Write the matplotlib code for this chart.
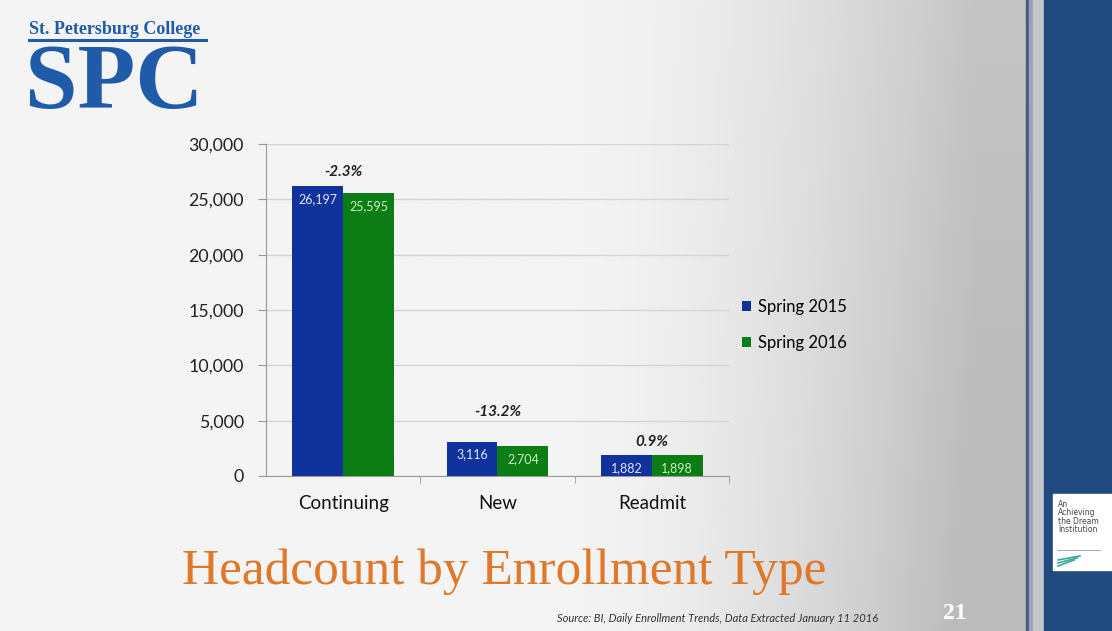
import matplotlib
matplotlib.use('Agg')
import matplotlib.pyplot as plt
from matplotlib.colors import LinearSegmentedColormap
import numpy as np

# Headcount by enrollment type, spring terms
categories = ['Continuing', 'New', 'Readmit']
spring_2015 = [26197, 3116, 1882]
spring_2016 = [25595, 2704, 1898]
series_names = ['Spring 2015', 'Spring 2016']
y_ticks = [0, 5000, 10000, 15000, 20000, 25000, 30000]

BLUE = '#11329a'
GREEN = '#0b7d14'
ORANGE = '#e0782a'
LOGO_BLUE = '#1f5ba8'
PANEL_BLUE = '#214b80'

W, H = 1112, 631
fig = plt.figure(figsize=(W / 100, H / 100), dpi=100)

# slide background: near white on the left, fading to grey towards the right edge
bg = fig.add_axes([0, 0, 1, 1], zorder=-10)
bg.set_xlim(0, W)
bg.set_ylim(H, 0)
bg.axis('off')
xs = np.linspace(0, 1, 400)
shade = np.where(xs < 0.55, 0.0, ((xs - 0.55) / 0.40) ** 1.6)
shade = np.clip(shade, 0, 1)
grad = np.tile(shade, (50, 1))
ys = np.linspace(0, 1, 50)[:, None]
grad = np.clip(grad * (0.85 + 0.25 * ys), 0, 1)
cmap = LinearSegmentedColormap.from_list('slide', ['#f4f4f4', '#bcbcbc'])
bg.imshow(grad, cmap=cmap, extent=[0, 1030, H, 0], aspect='auto', vmin=0, vmax=1)

# right-hand frame and blue panel
bg.add_patch(plt.Rectangle((1026, 0), 3, H, color='#4a5a78'))
bg.add_patch(plt.Rectangle((1029, 0), 4, H, color='#9aa3b3'))
bg.add_patch(plt.Rectangle((1033, 0), 11, H, color='#c3c6cb'))
bg.add_patch(plt.Rectangle((1044, 0), W - 1044, H, color=PANEL_BLUE))
bg.add_patch(plt.Rectangle((1053, 494), W - 1053, 76, color='white'))
bg.text(1058, 500, 'An\nAchieving\nthe Dream\nInstitution', fontsize=5.5, color='#444444',
        va='top', ha='left', family='DejaVu Sans', linespacing=0.9)
bg.plot([1057, 1100], [550, 550], color='#9a9a9a', lw=0.6)
for k in range(3):
    bg.plot([1058, 1080 - 3 * k], [560 + 3 * k, 556 + 2 * k], color='#3aa89a', lw=1.2)

# college logo
bg.text(29, 34, 'St. Petersburg College', fontsize=13, fontweight='bold', color=LOGO_BLUE,
        family='Liberation Serif', ha='left', va='baseline')
bg.plot([29, 206], [40, 40], color=LOGO_BLUE, lw=2.2)
bg.text(25, 108, 'SPC', fontsize=68, fontweight='bold', color=LOGO_BLUE,
        family='Liberation Serif', ha='left', va='baseline')

# slide title, source and page number
bg.text(504, 584, 'Headcount by Enrollment Type', fontsize=37, color=ORANGE,
        family='Liberation Serif', ha='center', va='baseline')
bg.text(557, 622, 'Source: BI, Daily Enrollment Trends, Data Extracted January 11 2016',
        fontsize=8, style='italic', color='#333333', family='Lato', ha='left', va='baseline')
bg.text(955, 619, '21', fontsize=17, fontweight='bold', color='white',
        family='Liberation Serif', ha='center', va='baseline')

# chart
ax = fig.add_axes([266 / W, 1 - 476 / H, (729 - 266) / W, (476 - 144) / H])
ax.patch.set_alpha(0)
x = np.arange(len(categories))
width = 0.33
b1 = ax.bar(x - width / 2, spring_2015, width, color=BLUE, label=series_names[0], zorder=3)
b2 = ax.bar(x + width / 2, spring_2016, width, color=GREEN, label=series_names[1], zorder=3)

ax.set_xlim(-0.5, 2.5)
ax.set_ylim(0, 30000)
ax.set_yticks(y_ticks)
ax.set_yticklabels([f'{v:,}' for v in y_ticks], fontsize=12.8, family='Lato', color='#222222')
ax.set_xticks(x)
ax.set_xticklabels(categories, fontsize=13.5, family='Lato', color='#111111')
ax.tick_params(axis='x', length=0, pad=14)
ax.tick_params(axis='y', length=6, color='#999999', pad=10)
# small ticks between categories
ax.set_xticks([0.5, 1.5, 2.5], minor=True)
ax.tick_params(axis='x', which='minor', length=5, color='#999999')
ax.grid(axis='y', color='#d4d4d4', lw=1, zorder=0)
for side in ['top', 'right']:
    ax.spines[side].set_visible(False)
ax.spines['left'].set_color('#999999')
ax.spines['bottom'].set_color('#999999')

# value labels just inside the top of each bar
for bars, txt_col in [(b1, '#dfe6ff'), (b2, '#c8f0c0')]:
    for bar in bars:
        h = bar.get_height()
        ax.annotate(f'{int(h):,}', (bar.get_x() + bar.get_width() / 2, h),
                    xytext=(0, -5), textcoords='offset points', ha='center', va='top',
                    fontsize=9, color=txt_col, family='Lato', zorder=4)

# year-over-year change above each pair
pct_offsets = [5, 16, 4]
for i, (a, b) in enumerate(zip(spring_2015, spring_2016)):
    pct = (b - a) / a * 100
    ax.annotate(f'{pct:.1f}%', (x[i], max(a, b)), xytext=(0, pct_offsets[i]),
                textcoords='offset points', ha='center', va='bottom',
                fontsize=11, fontweight='bold', style='italic', color='#222222', family='Lato')

leg = ax.legend(loc='center left', bbox_to_anchor=(0.995, 0.455), frameon=False,
                prop={'family': 'Lato', 'size': 12}, handlelength=0.55, handleheight=0.55,
                handletextpad=0.4, labelspacing=1.2)

fig.savefig('out.png', dpi=100)
